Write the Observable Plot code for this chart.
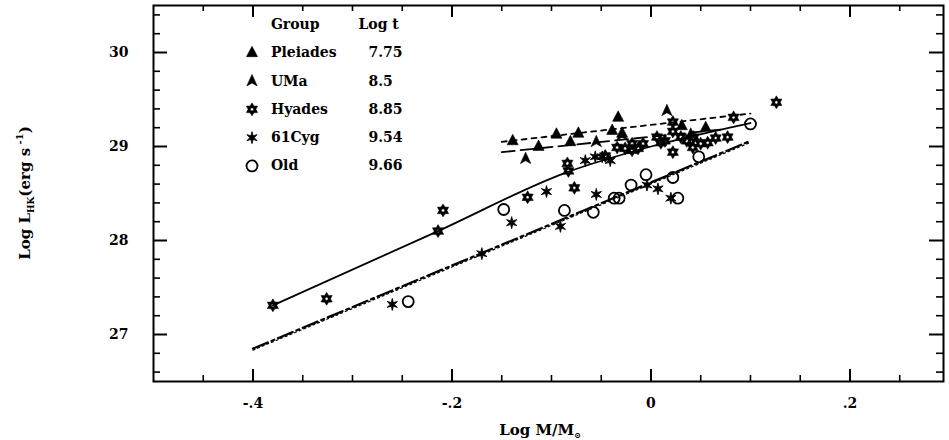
<!DOCTYPE html>
<html><head><meta charset="utf-8">
<script src="https://cdn.jsdelivr.net/npm/d3@7"></script>
<script src="https://cdn.jsdelivr.net/npm/@observablehq/plot@0.6"></script>
<style>body{margin:0;background:#fff}#chart{width:949px;height:440px}</style>
</head><body><div id="chart"></div>
<script>
// ---- data ----
const pleiadesX = [-0.139, -0.113, -0.095, -0.081, -0.073, -0.039, -0.033, -0.029, 0.031, 0.055];
const pleiadesY = [29.06, 29.00, 29.13, 29.05, 29.14, 29.17, 29.31, 29.14, 29.22, 29.20];

const umaX = [-0.126, -0.055, -0.029, 0.016, 0.040];
const umaY = [28.87, 29.05, 29.12, 29.38, 29.13];

const hyadesX = [-0.380, -0.326, -0.214, -0.209, -0.124, -0.077, -0.084, -0.083,
  -0.046, -0.034, -0.026, -0.019, -0.013, -0.008, -0.019, 0.006, 0.010, 0.014,
  0.022, 0.022, 0.022, 0.030, 0.036, 0.042, 0.043, 0.050, 0.057, 0.065, 0.077, 0.083, 0.126];
const hyadesY = [27.31, 27.38, 28.10, 28.32, 28.46, 28.56, 28.82, 28.74,
  28.90, 28.99, 28.98, 29.03, 28.98, 29.03, 28.96, 29.10, 29.04, 29.06,
  29.26, 29.16, 28.94, 29.10, 29.06, 28.99, 29.10, 29.03, 29.04, 29.09, 29.10, 29.31, 29.47];

const cygX = [-0.260, -0.170, -0.140, -0.105, -0.091, -0.055, -0.066, -0.056, -0.049, -0.041, -0.004, 0.007, 0.020];
const cygY = [27.32, 27.86, 28.19, 28.52, 28.15, 28.49, 28.85, 28.89, 28.89, 28.85, 28.59, 28.55, 28.45];

const oldX = [-0.244, -0.148, -0.087, -0.058, -0.037, -0.032, -0.020, -0.005, 0.022, 0.027, 0.048, 0.100];
const oldY = [27.35, 28.33, 28.32, 28.30, 28.45, 28.45, 28.59, 28.70, 28.67, 28.45, 28.89, 29.24];

// fitted relations
const hyadesFitX = [-0.380, -0.214, -0.086, 0.000, 0.100];
const hyadesFitY = [27.31, 28.10, 28.72, 29.00, 29.25];
const umaFitX = [-0.150, 0.070];
const umaFitY = [28.94, 29.18];
const pleiadesFitX = [-0.150, 0.100];
const pleiadesFitY = [29.05, 29.35];
const oldFitX = [-0.400, 0.100];
const oldFitY = [26.85, 29.06];

// legend
const legendGroups = ["Pleiades", "UMa", "Hyades", "61Cyg", "Old"];
const legendLogT = ["7.75", "8.5", "8.85", "9.54", "9.66"];
const legendHeader = ["Group", "Log t"];

// ticks
const xTickValues = [-0.4, -0.2, 0, 0.2];
const xTickLabels = ["-.4", "-.2", "0", ".2"];
const yTickValues = [27, 28, 29, 30];
const yTickLabels = ["27", "28", "29", "30"];
const xMinorTicks = d3.range(-0.45, 0.29, 0.05).filter(v => Math.abs(v * 5 - Math.round(v * 5)) > 1e-6);
const yMinorTicks = d3.range(26.6, 30.45, 0.2).filter(v => Math.abs(v - Math.round(v)) > 1e-6);

// ---- layout ----
const W = 949, H = 440, mL = 153, mR = 6, mT = 5, mB = 59;
const xDomain = [-0.5, 0.294], yDomain = [26.5, 30.5];
const fw = W - mL - mR, fh = H - mT - mB;

// ---- symbols ----
const rad = s => Math.sqrt(s / Math.PI);
const hexStar = { draw(c, s) { const r = rad(s), ri = r * 0.6;
  for (let i = 0; i < 12; i++) { const a = -Math.PI / 2 + i * Math.PI / 6, rr = i % 2 ? ri : r;
    const px = rr * Math.cos(a), py = rr * Math.sin(a); i ? c.lineTo(px, py) : c.moveTo(px, py); }
  c.closePath(); const h = r * 0.24; c.moveTo(h, 0); c.arc(0, 0, h, 0, 2 * Math.PI, true); c.closePath(); } };
const asterisk = { draw(c, s) { const r = rad(s), ri = r * 0.36;
  for (let i = 0; i < 12; i++) { const a = -Math.PI / 2 + i * Math.PI / 6, rr = i % 2 ? ri : r;
    const px = rr * Math.cos(a), py = rr * Math.sin(a); i ? c.lineTo(px, py) : c.moveTo(px, py); }
  c.closePath(); } };
const arrowTri = { draw(c, s) { const r = rad(s);
  c.moveTo(0, -r); c.lineTo(0.8 * r, 0.75 * r); c.lineTo(0, 0.3 * r); c.lineTo(-0.8 * r, 0.75 * r); c.closePath(); } };
const fillTri = { draw(c, s) { const r = rad(s);
  c.moveTo(0, -r); c.lineTo(0.85 * r, 0.6 * r); c.lineTo(-0.85 * r, 0.6 * r); c.closePath(); } };

const zip = (X, Y) => X.map((x, i) => ({x, y: Y[i]}));
const pts = {
  Pleiades: zip(pleiadesX, pleiadesY),
  UMa: zip(umaX, umaY),
  Hyades: zip(hyadesX, hyadesY),
  "61Cyg": zip(cygX, cygY),
  Old: zip(oldX, oldY)
};
const symStyle = {
  Pleiades: {symbol: fillTri, fill: "black", stroke: "black", strokeWidth: 0.6, r: 6.5},
  UMa: {symbol: arrowTri, fill: "black", stroke: "black", strokeWidth: 0.6, r: 6.5},
  Hyades: {symbol: hexStar, fill: "black", stroke: "black", strokeWidth: 0.5, r: 6.5},
  "61Cyg": {symbol: asterisk, fill: "black", stroke: "black", strokeWidth: 0.8, r: 6},
  Old: {symbol: "circle", fill: "none", stroke: "black", strokeWidth: 1.8, r: 5.5}
};

const legX = {sym: -0.401, name: -0.382, val: -0.284, hdrVal: -0.294};
const legRowY = i => 29.997 - i * 0.301;
const legendRows = legendGroups.map((g, i) => ({g, t: legendLogT[i], x: legX.sym, xn: legX.name, xv: legX.val, y: legRowY(i)}));

const fontFamily = "DejaVu Serif";
const marks = [
  Plot.frame({stroke: "black", fill: "none", strokeWidth: 2}),
  // inward ticks on all four sides: rules across the frame, inset down to the tick length
  Plot.ruleX(xTickValues, {stroke: "black", strokeWidth: 2, insetTop: fh - 12}),
  Plot.ruleX(xMinorTicks, {stroke: "black", strokeWidth: 1.6, insetTop: fh - 6}),
  Plot.ruleX(xTickValues, {stroke: "black", strokeWidth: 2, insetBottom: fh - 12}),
  Plot.ruleX(xMinorTicks, {stroke: "black", strokeWidth: 1.6, insetBottom: fh - 6}),
  Plot.ruleY(yTickValues, {stroke: "black", strokeWidth: 2, insetRight: fw - 14}),
  Plot.ruleY(yMinorTicks, {stroke: "black", strokeWidth: 1.6, insetRight: fw - 7}),
  Plot.ruleY(yTickValues, {stroke: "black", strokeWidth: 2, insetLeft: fw - 14}),
  Plot.ruleY(yMinorTicks, {stroke: "black", strokeWidth: 1.6, insetLeft: fw - 7}),
  // tick labels
  Plot.axisX({anchor: "bottom", ticks: xTickValues, tickSize: 0, tickPadding: 17,
    tickFormat: d => xTickLabels[xTickValues.indexOf(d)], fontSize: 14, fontWeight: "bold", label: null}),
  Plot.axisY({anchor: "left", ticks: yTickValues, tickSize: 0, tickPadding: 25,
    tickFormat: d => yTickLabels[yTickValues.indexOf(d)], fontSize: 14, fontWeight: "bold", label: null}),
  // fitted relations
  Plot.line(zip(oldFitX, oldFitY), {x: "x", y: "y", stroke: "black", strokeWidth: 2.2, strokeDasharray: "16 4 3 4"}),
  Plot.line(zip(oldFitX, oldFitY), {x: "x", y: "y", stroke: "black", strokeWidth: 1.2, strokeDasharray: "2 3", dy: 1.5}),
  Plot.line(zip(hyadesFitX, hyadesFitY), {x: "x", y: "y", stroke: "black", strokeWidth: 1.8, curve: "monotone-x"}),
  Plot.line(zip(umaFitX, umaFitY), {x: "x", y: "y", stroke: "black", strokeWidth: 1.8, strokeDasharray: "13 6"}),
  Plot.line(zip(pleiadesFitX, pleiadesFitY), {x: "x", y: "y", stroke: "black", strokeWidth: 1.8, strokeDasharray: "5 5"}),
  // data points
  ...legendGroups.map(g => Plot.dot(pts[g], {x: "x", y: "y", ...symStyle[g]})),
  // legend
  ...legendGroups.map((g, i) => Plot.dot([legendRows[i]], {x: "x", y: "y", ...symStyle[g]})),
  Plot.text(legendRows, {x: "xn", y: "y", text: "g", textAnchor: "start", fontSize: 14, fontWeight: "bold"}),
  Plot.text(legendRows, {x: "xv", y: "y", text: "t", textAnchor: "start", fontSize: 14, fontWeight: "bold"}),
  Plot.text([{x: legX.name, y: 30.298, t: legendHeader[0]}, {x: legX.hdrVal, y: 30.298, t: legendHeader[1]}],
    {x: "x", y: "y", text: "t", textAnchor: "start", fontSize: 14, fontWeight: "bold"})
];

const chart = Plot.plot({
  width: W, height: H,
  marginLeft: mL, marginRight: mR, marginTop: mT, marginBottom: mB,
  style: {fontFamily, fontWeight: "bold", fontSize: "14px", background: "white", color: "black"},
  x: {domain: xDomain, label: null},
  y: {domain: yDomain, label: null},
  marks
});
document.getElementById("chart").appendChild(chart);

// axis titles with sub/superscripts
const svg = d3.select(chart);
const yl = svg.append("text").attr("transform", "translate(30,193) rotate(-90)")
  .attr("text-anchor", "middle").attr("font-family", fontFamily).attr("font-weight", "bold").attr("font-size", 15).attr("fill", "black");
yl.append("tspan").text("Log L");
yl.append("tspan").attr("font-size", 9).attr("dy", 4).text("HK");
yl.append("tspan").attr("dy", -4).text("(erg s");
yl.append("tspan").attr("font-size", 10).attr("dy", -7).text(" -1");
yl.append("tspan").attr("dy", 7).text(")");
const xl = svg.append("text").attr("x", 540).attr("y", 435)
  .attr("text-anchor", "middle").attr("font-family", fontFamily).attr("font-weight", "bold").attr("font-size", 15).attr("fill", "black");
xl.append("tspan").text("Log M/M");
xl.append("tspan").attr("font-size", 8).attr("dy", 3).text("⊙");
</script></body></html>
